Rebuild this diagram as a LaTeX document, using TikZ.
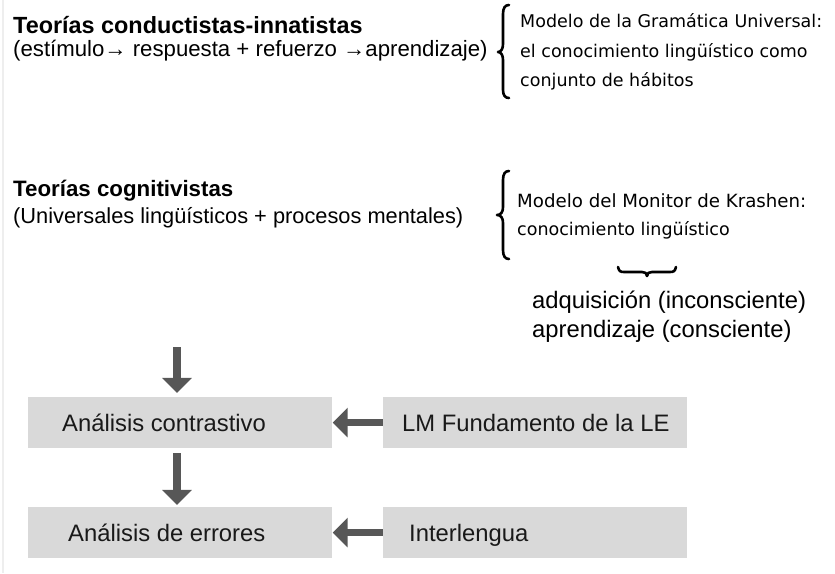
\documentclass[tikz,border=0pt]{standalone}
\usepackage{fontspec}
\setmainfont{Liberation Sans}
\newfontfamily\smallsans{DejaVu Sans}
\usetikzlibrary{arrows.meta}
\definecolor{boxgray}{HTML}{D9D9D9}
\definecolor{arrowgray}{HTML}{575757}
\definecolor{edgegray}{HTML}{EEEEEE}
\begin{document}
\begin{tikzpicture}[x=1pt,y=-1pt,
  title/.style={anchor=base west, inner sep=0pt, font=\fontsize{22.3}{26}\selectfont\bfseries},
  sub/.style={anchor=base west, inner sep=0pt, font=\fontsize{21.8}{26}\selectfont},
  model/.style={anchor=base west, inner sep=0pt, font=\smallsans\fontsize{17.5}{20}\selectfont},
  kind/.style={anchor=base west, inner sep=0pt, font=\fontsize{23.8}{28}\selectfont},
  box/.style={fill=boxgray, draw=none, minimum width=304pt, minimum height=51pt, inner sep=0pt},
  boxtext/.style={anchor=base west, inner sep=0pt, font=\fontsize{23.8}{28}\selectfont, text=black!90},
  fat/.style={draw=arrowgray, line width=7.5pt, -{Triangle[width=29pt,length=15pt]}, fill=arrowgray},
  bracestroke/.style={draw=black, line width=2.6pt, line cap=round, line join=round}
]
\useasboundingbox (0,0) rectangle (835,573);
\draw[edgegray, line width=2pt] (3,0) -- (3,573);

% upper block
\node[title, font=\fontsize{23.4}{26}\selectfont\bfseries] (t1) at (13,33) {Teorías conductistas-innatistas};
\node[sub, font=\fontsize{22.2}{26}\selectfont] (s1) at (13,56) {(estímulo→ respuesta + refuerzo →aprendizaje)};
\draw[bracestroke] (509,5) .. controls (505,5) and (503,8) .. (503,14) -- (503,44)
  .. controls (503,49) and (501,52) .. (498,52) .. controls (501,52) and (503,55) .. (503,60)
  -- (503,90) .. controls (503,95) and (505,98) .. (509,98);
\node[model] (m1) at (520,27) {Modelo de la Gramática Universal:};
\node[model] (m2) at (520,57) {el conocimiento lingüístico como};
\node[model] (m3) at (520,86) {conjunto de hábitos};

% second block
\node[title] (t2) at (13,196) {Teorías cognitivistas};
\node[sub] (s2) at (13,223) {(Universales lingüísticos + procesos mentales)};
\draw[bracestroke] (509,171) .. controls (505,171) and (503,174) .. (503,180) -- (503,207)
  .. controls (503,212) and (501,215) .. (497,215) .. controls (501,215) and (503,218) .. (503,223)
  -- (503,250) .. controls (503,256) and (505,259) .. (509,259);
\node[model, font=\smallsans\fontsize{18.2}{20}\selectfont] (k1) at (517,207) {Modelo del Monitor de Krashen:};
\node[model] (k2) at (517,235) {conocimiento lingüístico};
\draw[bracestroke] (618,267) .. controls (619,271) and (620,272) .. (624,272) -- (642,272)
  .. controls (645,272) and (647,273) .. (647,276) .. controls (647,273) and (649,272) .. (652,272)
  -- (670,272) .. controls (674,272) and (675,271) .. (676,267);
\node[kind] (a1) at (532,308) {adquisición (inconsciente)};
\node[kind] (a2) at (532,337) {aprendizaje (consciente)};

% boxes
\node[box] (ac) at (179.5,422.5) {};
\node[box] (lm) at (535,422.5) {};
\node[box] (ae) at (179.5,532.5) {};
\node[box] (il) at (535,532.5) {};
\node[boxtext] (act) at (62,431) {Análisis contrastivo};
\node[boxtext] (lmt) at (402,431) {LM Fundamento de la LE};
\node[boxtext] (aet) at (68,541) {Análisis de errores};
\node[boxtext] (ilt) at (409,541) {Interlengua};

% arrows
\coordinate (start) at (177,347);
\draw[fat, shorten >=4pt] (start) -- (start |- ac.north);
\draw[fat, shorten <=5pt, shorten >=2pt] (ac.south -| start) -- (ae.north -| start);
\draw[fat, shorten >=1pt] (lm.west) -- (ac.east);
\draw[fat, shorten >=1pt] (il.west) -- (ae.east);
\end{tikzpicture}
\end{document}
